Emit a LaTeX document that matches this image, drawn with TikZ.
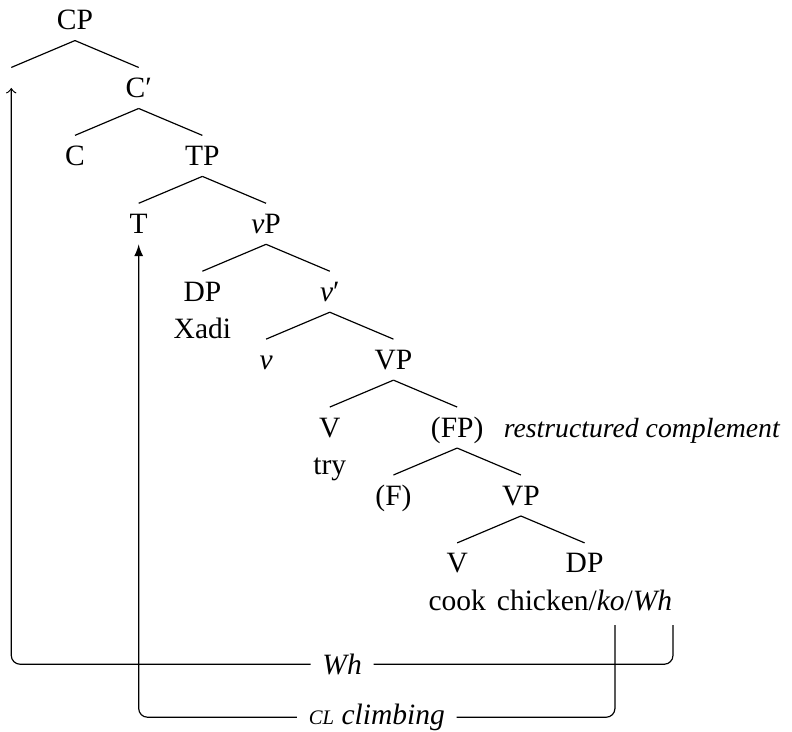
\documentclass[tikz,border=0pt]{standalone}
\usepackage{fontspec}
\setmainfont{Liberation Serif}
\usetikzlibrary{positioning}

\begin{document}
\begin{tikzpicture}[x=21.59pt, y=-23.02pt,
    cat/.style = {text height=7pt, text depth=0.5pt, inner sep=3pt},
    lbl/.style = {fill=white, inner xsep=4pt, inner ysep=1pt},
    whmove/.style = {->, rounded corners=3pt},
    clmove/.style = {-latex, rounded corners=3pt}]

    \useasboundingbox (-1.177,-0.295) rectangle (11.256,10.471);

    \node[cat] (cp) at (0, 0) {CP};
    \node[cat] (spec) at (-1, 1) {};
    \node[cat] (cbar) at (1, 1) {C′};
    \node[cat] (c) at (0, 2) {C};
    \node[cat] (tp) at (2, 2) {TP};
    \node[cat] (t) at (1, 3) {T};
    \node[cat] (vp) at (3, 3) {\textit{v}P};
    \node[cat] (dp) at (2, 4) {DP};
    \node[cat] (xadi) at (2, 4.545) {Xadi};
    \node[cat] (vbar) at (4, 4) {\textit{v}′};
    \node[cat] (v) at (3, 5) {\textit{v}};
    \node[cat] (vp2) at (5, 5) {VP};
    \node[cat] (verb) at (4, 6) {V};
    \node[cat] (try) at (4, 6.545) {try};
    \node[cat] (fp) at (6, 6) {(FP)};
    \node[cat, right=0.5pt of fp] (rc) {\fontsize{9.4pt}{11pt}\selectfont\textit{restructured complement}};
    \node[cat] (f) at (5, 7) {(F)};
    \node[cat] (vp3) at (7, 7) {VP};
    \node[cat] (verb2) at (6, 8) {V};
    \node[cat] (cook) at (6, 8.545) {cook};
    \node[cat] (dp2) at (8, 8) {DP};
    \node[cat] (chicken) at (8, 8.545) {chicken/\textit{ko}/\textit{Wh}};

    \draw (cp.south) -- (spec.north);
    \draw (cp.south) -- (cbar.north);
    \draw (cbar.south) -- (c.north);
    \draw (cbar.south) -- (tp.north);
    \draw (tp.south) -- (t.north);
    \draw (tp.south) -- (vp.north);
    \draw (vp.south) -- (dp.north);
    \draw (vp.south) -- (vbar.north);
    \draw (vbar.south) -- (v.north);
    \draw (vbar.south) -- (vp2.north);
    \draw (vp2.south) -- (verb.north);
    \draw (vp2.south) -- (fp.north);
    \draw (fp.south) -- (f.north);
    \draw (fp.south) -- (vp3.north);
    \draw (vp3.south) -- (verb2.north);
    \draw (vp3.south) -- (dp2.north);

    % movement paths
    \coordinate (whfoot) at (9.388, 8.91);
    \coordinate (kofoot) at (8.477, 8.91);

    \draw[whmove] (whfoot) -- ++(0, 0.575) -| node[lbl, pos=0.25] {\textit{Wh}} (spec.center);
    \draw[clmove] (kofoot) -- ++(0, 1.355) -| node[lbl, pos=0.25] {\textit{{\fontsize{7pt}{8pt}\selectfont CL} climbing}} (t.south);

\end{tikzpicture}
\end{document}
